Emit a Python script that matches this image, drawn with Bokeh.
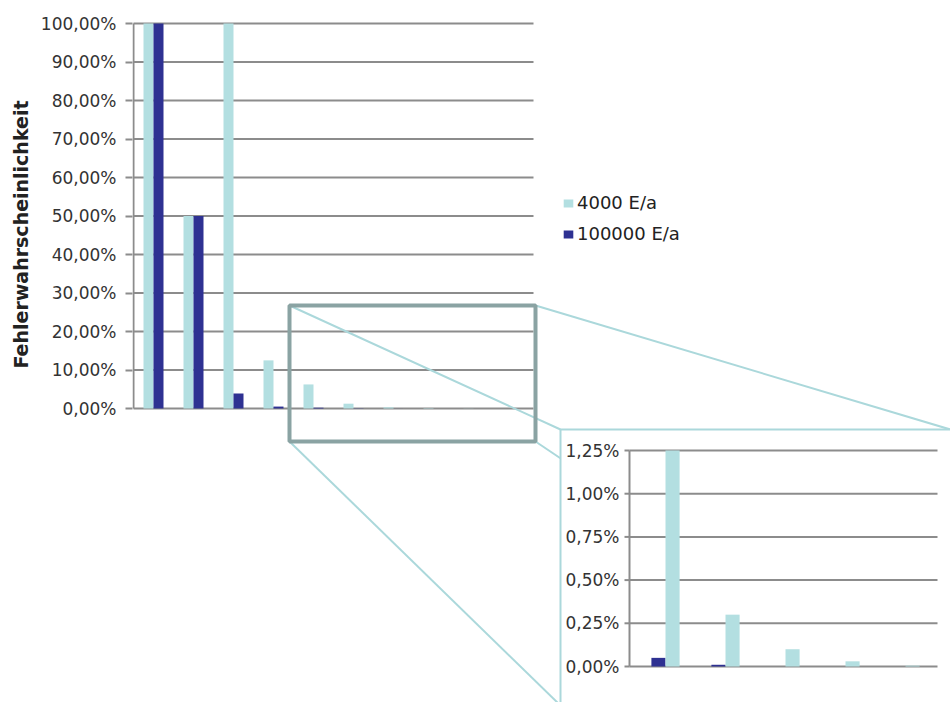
from bokeh.core.properties import value
from bokeh.embed import file_html
from bokeh.models import (ColumnDataSource, FixedTicker, Legend, LegendItem,
                          LinearAxis, Range1d, Title)
from bokeh.plotting import figure
from bokeh.resources import INLINE

# ---------------------------------------------------------------- data
stufen = ["1", "2", "3", "4", "5", "6", "7", "8", "9", "10"]
rate_4000 = [100.0, 50.0, 100.0, 12.5, 6.25, 1.25, 0.30, 0.10, 0.03, 0.005]
rate_100000 = [100.0, 50.0, 3.9, 0.5, 0.2, 0.05, 0.01, 0.0, 0.0, 0.0]
series_names = ["4000 E/a", "100000 E/a"]

main_ticks = [0, 10, 20, 30, 40, 50, 60, 70, 80, 90, 100]
main_tick_labels = ["0,00%", "10,00%", "20,00%", "30,00%", "40,00%", "50,00%",
                    "60,00%", "70,00%", "80,00%", "90,00%", "100,00%"]
detail_ticks = [0.0, 0.25, 0.5, 0.75, 1.0, 1.25]
detail_tick_labels = ["0,00%", "0,25%", "0,50%", "0,75%", "1,00%", "1,25%"]
detail_first = 5          # first step shown in the magnified view
y_title = "Fehlerwahrscheinlichkeit"

# ---------------------------------------------------------------- styles
CYAN = "#b3dfe1"
NAVY = "#2e3192"
GRID = "#8c8c8c"
FRAME = "#8aa3a3"
ZOOM = "#abd8db"
TEXT = "#333333"
FONT = "DejaVu Sans"

W, H = 950, 702
LEFT = 132

# default ranges are page pixels (y downwards); extra ranges hold the
# two chart scales
p = figure(width=W, height=H, output_backend="svg", toolbar_location=None,
           x_range=Range1d(LEFT, W), y_range=Range1d(H, 0),
           x_axis_type=None, y_axis_type=None,
           min_border_left=LEFT, min_border_right=0,
           min_border_top=0, min_border_bottom=0,
           outline_line_color=None, background_fill_color="white",
           border_fill_color="white")

# main chart: step edge 0 at x=133 px, 40 px per step; 0 % at y=408, 3.85 px per %
mx0, mpx = 133.0, 40.0
my0, mpy = 408.0, 3.85
p.extra_x_ranges["main"] = Range1d((LEFT - mx0) / mpx, (W - mx0) / mpx)
p.extra_y_ranges["main"] = Range1d((my0 - H) / mpy, my0 / mpy)

# detail chart: 60 px per step starting at x=635; 0 % at y=666, 172.8 px per %
dx0, dpx = 635.0, 60.0
dy0, dpy = 666.0, 172.8
p.extra_x_ranges["detail"] = Range1d((LEFT - dx0) / dpx, (W - dx0) / dpx)
p.extra_y_ranges["detail"] = Range1d((dy0 - H) / dpy, dy0 / dpy)

n = len(stufen)

# ---------------------------------------------------------------- main chart
yaxis = LinearAxis(y_range_name="main", ticker=FixedTicker(ticks=main_ticks),
                   major_label_overrides={t: l for t, l in zip(main_ticks, main_tick_labels)},
                   axis_line_color=None, major_tick_out=7, major_tick_in=0,
                   major_tick_line_color=GRID, major_tick_line_width=2,
                   minor_tick_line_color=None, major_label_standoff=9,
                   major_label_text_font=FONT, major_label_text_font_size="17px",
                   major_label_text_color=TEXT)
p.add_layout(yaxis, "left")

# vertical title, its end level with the top of the value axis
p.add_layout(Title(text=y_title, align="right", offset=100, standoff=12,
                   text_font=FONT, text_font_size="19px", text_font_style="bold",
                   text_color="#222222"), "left")

p.segment(x0=[0] * len(main_ticks), x1=[n] * len(main_ticks),
          y0=main_ticks, y1=main_ticks, x_range_name="main", y_range_name="main",
          line_color=GRID, line_width=2)

bw = 0.25
src = ColumnDataSource(dict(
    x_a=[i + 0.5 - bw / 2 for i in range(n)],
    x_b=[i + 0.5 + bw / 2 for i in range(n)],
    a=rate_4000, b=rate_100000))
r_a = p.vbar(x="x_a", top="a", bottom=0, width=bw, source=src,
             x_range_name="main", y_range_name="main",
             fill_color=CYAN, line_color=None)
r_b = p.vbar(x="x_b", top="b", bottom=0, width=bw, source=src,
             x_range_name="main", y_range_name="main",
             fill_color=NAVY, line_color=None)

p.segment(x0=[0], x1=[0], y0=[main_ticks[0]], y1=[main_ticks[-1]],
          x_range_name="main", y_range_name="main", line_color=GRID, line_width=2)

legend = Legend(items=[LegendItem(label=series_names[0], renderers=[r_a]),
                       LegendItem(label=series_names[1], renderers=[r_b])],
                location=(430, 458), orientation="vertical",
                glyph_width=12, glyph_height=10, label_standoff=3, spacing=10,
                padding=0, margin=0, border_line_color=None,
                background_fill_alpha=0,
                label_text_font=FONT, label_text_font_size="18px",
                label_text_color="#222222")
p.add_layout(legend)

# ---------------------------------------------------------------- magnifier
# connectors from the marked region towards the detail panel
p.segment(x0=[289, 535, 289, 535], y0=[305, 305, 441, 441],
          x1=[560, 950, 560, 960], y1=[429, 429, 705, 727],
          line_color=ZOOM, line_width=2)
# marked region in the main chart
p.quad(left=[289], right=[535], top=[305], bottom=[441],
       fill_color=None, line_color=FRAME, line_width=4)
# detail panel
p.quad(left=[560], right=[980], top=[429], bottom=[730],
       fill_color="white", line_color=ZOOM, line_width=2)

# ---------------------------------------------------------------- detail chart
dn = n - detail_first
ax_x = 629
p.segment(x0=[ax_x] * len(detail_ticks), x1=[937] * len(detail_ticks),
          y0=detail_ticks, y1=detail_ticks, y_range_name="detail",
          line_color=GRID, line_width=2)
p.segment(x0=[ax_x - 5] * len(detail_ticks), x1=[ax_x] * len(detail_ticks),
          y0=detail_ticks, y1=detail_ticks, y_range_name="detail",
          line_color=GRID, line_width=2)

dbw = 0.235
dsrc = ColumnDataSource(dict(
    x_b=[k + 0.5 - dbw / 2 for k in range(dn)],
    x_a=[k + 0.5 + dbw / 2 for k in range(dn)],
    a=rate_4000[detail_first:], b=rate_100000[detail_first:]))
p.vbar(x="x_b", top="b", bottom=0, width=dbw, source=dsrc,
       x_range_name="detail", y_range_name="detail",
       fill_color=NAVY, line_color=None)
p.vbar(x="x_a", top="a", bottom=0, width=dbw, source=dsrc,
       x_range_name="detail", y_range_name="detail",
       fill_color=CYAN, line_color=None)

p.segment(x0=[ax_x], x1=[ax_x], y0=[detail_ticks[0]], y1=[detail_ticks[-1]],
          y_range_name="detail", line_color=GRID, line_width=2)
p.text(x=[ax_x - 10] * len(detail_ticks), y=detail_ticks, text=detail_tick_labels,
       y_range_name="detail", text_align="right", text_baseline="middle",
       text_font=value(FONT), text_font_size="17px", text_color=TEXT)

open("out.html", "w").write(file_html(p, INLINE))
